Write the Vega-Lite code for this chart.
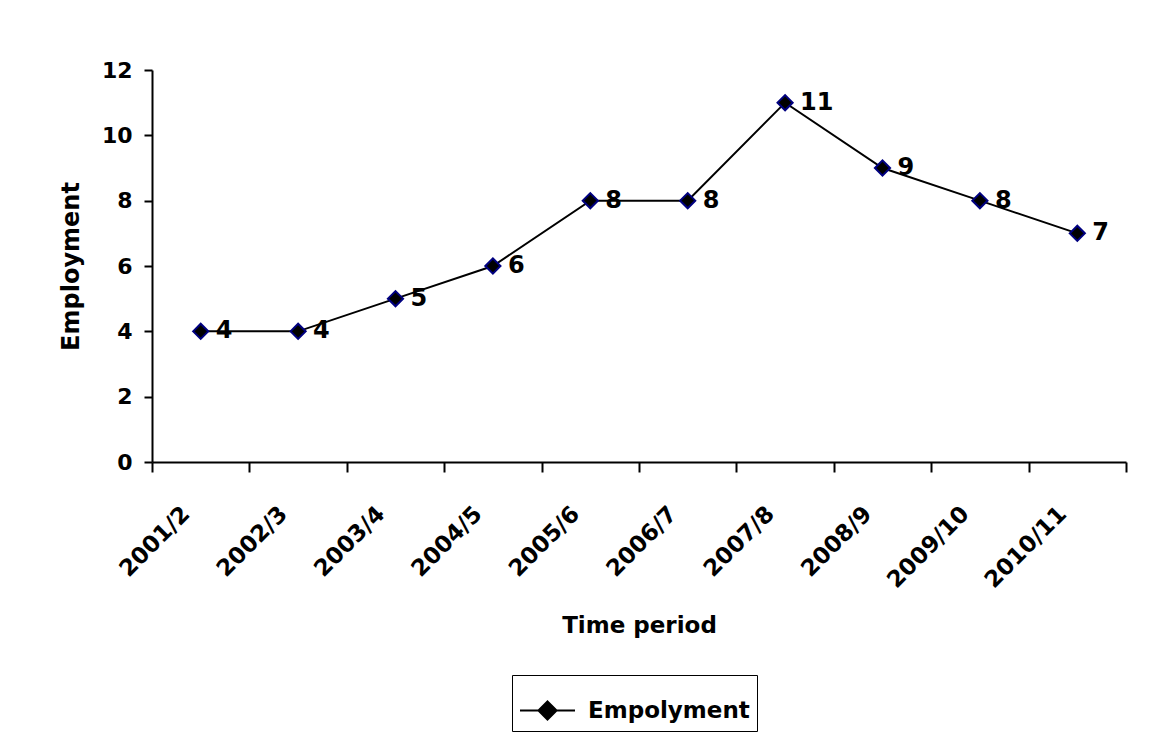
{
  "$schema": "https://vega.github.io/schema/vega-lite/v6.json",
  "autosize": {"type": "none"},
  "width": 974,
  "height": 392,
  "padding": {"left": 152, "top": 70, "right": 26, "bottom": 280},
  "background": "white",
  "config": {
    "view": {"stroke": null},
    "font": "DejaVu Sans",
    "axis": {"labelFont": "DejaVu Sans", "titleFont": "DejaVu Sans", "labelColor": "black", "titleColor": "black", "domainColor": "black", "tickColor": "black", "domainWidth": 2, "tickWidth": 2, "labelFontWeight": "bold", "titleFontWeight": "bold"}
  },
  "data": {
    "values": [
      {"period": "2001/2", "value": 4, "series": "Empolyment"},
      {"period": "2002/3", "value": 4, "series": "Empolyment"},
      {"period": "2003/4", "value": 5, "series": "Empolyment"},
      {"period": "2004/5", "value": 6, "series": "Empolyment"},
      {"period": "2005/6", "value": 8, "series": "Empolyment"},
      {"period": "2006/7", "value": 8, "series": "Empolyment"},
      {"period": "2007/8", "value": 11, "series": "Empolyment"},
      {"period": "2008/9", "value": 9, "series": "Empolyment"},
      {"period": "2009/10", "value": 8, "series": "Empolyment"},
      {"period": "2010/11", "value": 7, "series": "Empolyment"}
    ]
  },
  "encoding": {
    "x": {
      "field": "period", "type": "nominal", "sort": null,
      "scale": {"type": "band", "paddingInner": 0, "paddingOuter": 0},
      "axis": {"title": "Time period", "titleFontSize": 23, "labelFontSize": 23, "labelAngle": -45, "labelAlign": "right", "labelBaseline": "middle", "tickBand": "extent", "tickSize": 10, "labelPadding": 38, "labelOffset": -15, "titlePadding": 22, "grid": false}
    },
    "y": {
      "field": "value", "type": "quantitative",
      "scale": {"domain": [0, 12], "nice": false},
      "axis": {"title": "Employment", "titleFontSize": 24, "labelFontSize": 22, "values": [0, 2, 4, 6, 8, 10, 12], "tickSize": 8, "labelPadding": 12, "titlePadding": 18, "grid": false}
    }
  },
  "layer": [
    {
      "mark": {"type": "line", "strokeWidth": 2},
      "encoding": {
        "color": {
          "field": "series", "type": "nominal",
          "scale": {"range": ["black"]},
          "legend": {
            "title": null, "orient": "none", "legendX": 360, "legendY": 605,
            "strokeColor": "black", "fillColor": "white", "padding": 7,
            "labelFont": "DejaVu Sans", "labelFontWeight": "bold", "labelFontSize": 23, "labelColor": "black", "labelOffset": 12, "labelLimit": 400,
            "symbolType": "M-1,0H-0.33M0.33,0H1M0,-0.33L0.33,0L0,0.33L-0.33,0Z",
            "symbolSize": 3025, "symbolStrokeWidth": 2, "symbolStrokeColor": "black", "symbolFillColor": "black"
          }
        }
      }
    },
    {
      "mark": {"type": "point", "shape": "diamond", "filled": true, "fill": "black", "stroke": "#000080", "strokeWidth": 2, "size": 230, "opacity": 1}
    },
    {
      "mark": {"type": "text", "align": "left", "baseline": "middle", "dx": 15, "fontSize": 24, "fontWeight": "bold", "font": "DejaVu Sans", "color": "black"},
      "encoding": {"text": {"field": "value", "type": "quantitative"}}
    }
  ]
}
